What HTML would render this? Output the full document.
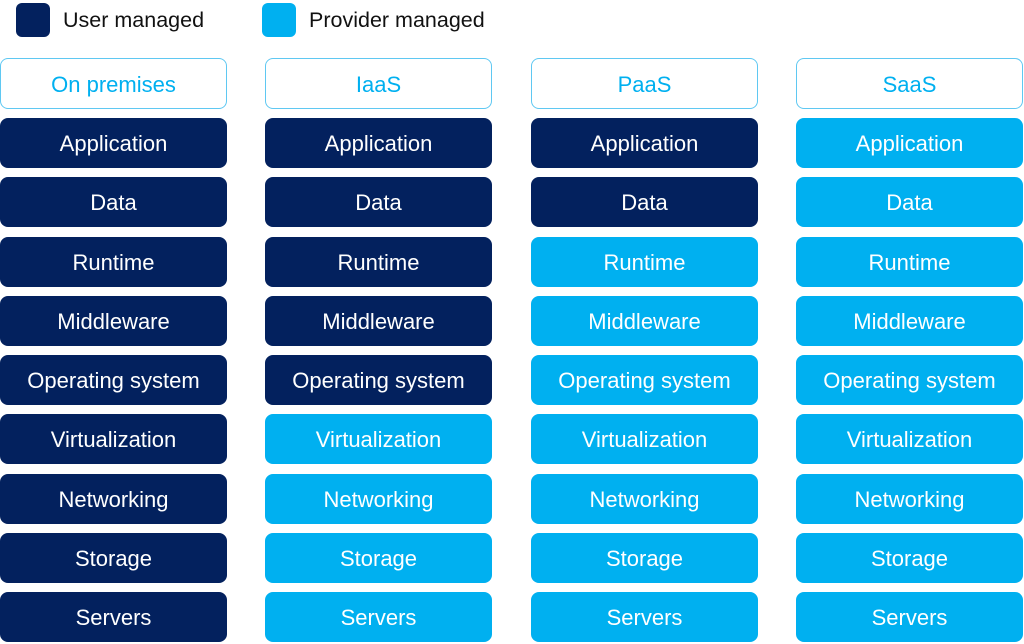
<!DOCTYPE html>
<html><head><style>
body{margin:0;width:1024px;height:644px;background:#fff;position:relative;font-family:"Liberation Sans",sans-serif;overflow:hidden}
.b{position:absolute;width:227px;height:50px;border-radius:8px;color:#fff;font-size:22px;display:flex;align-items:center;justify-content:center;box-sizing:border-box;padding-top:2px}
.d{background:#03215e}.l{background:#00b0f0}
.h{background:#fff;border:1.5px solid #5fc8f2;color:#00b0f0;height:51px}
.sq{position:absolute;top:3px;width:34px;height:34px;border-radius:6px}
.lt{position:absolute;top:8px;font-size:21.5px;color:#111}
</style></head><body>
<div class="sq d" style="left:16px"></div><div class="lt" style="left:63px">User managed</div>
<div class="sq l" style="left:262px"></div><div class="lt" style="left:309px">Provider managed</div>
<div id="c"></div>
<script>
var cols=[0,265,531,796],names=["On premises","IaaS","PaaS","SaaS"],
rows=["Application","Data","Runtime","Middleware","Operating system","Virtualization","Networking","Storage","Servers"],
dark=[9,5,2,0],h="";
for(var c=0;c<4;c++){h+='<div class="b h" style="left:'+cols[c]+'px;top:58px">'+names[c]+'</div>';
for(var r=0;r<9;r++){var k=(r<dark[c])?'d':'l';h+='<div class="b '+k+'" style="left:'+cols[c]+'px;top:'+Math.round(118+r*59.25)+'px">'+rows[r]+'</div>';}}
document.getElementById('c').innerHTML=h;
</script>
</body></html>
